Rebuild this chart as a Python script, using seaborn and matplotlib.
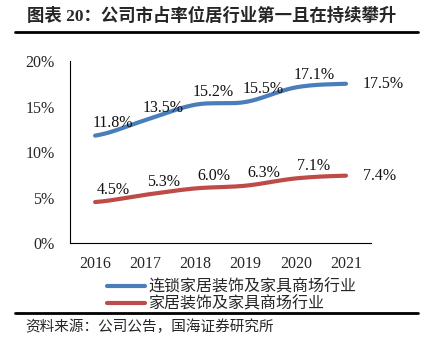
import numpy as np
import pandas as pd
import matplotlib
matplotlib.use("Agg")
import matplotlib.pyplot as plt
from matplotlib.lines import Line2D
import seaborn as sns

years = ["2016", "2017", "2018", "2019", "2020", "2021"]
chain_share = [11.8, 13.5, 15.2, 15.5, 17.1, 17.5]
industry_share = [4.5, 5.3, 6.0, 6.3, 7.1, 7.4]
series_names = ["连锁家居装饰及家具商场行业", "家居装饰及家具商场行业"]
yticks = [0, 5, 10, 15, 20]
title = "图表 20：公司市占率位居行业第一且在持续攀升"
source = "资料来源：公司公告，国海证券研究所"
colors = ["#4A7EBB", "#BE4B48"]

sns.set_style("white")
plt.rcParams["font.family"] = ["Liberation Serif", "Noto Sans CJK SC", "DejaVu Sans"]


def smooth(vals, n=30):
    """Catmull-Rom style smoothing for display of the line (x equally spaced)."""
    v = np.asarray(vals, float)
    k = len(v)
    m = np.zeros(k)
    for i in range(k):
        if i == 0:
            m[i] = (v[1] - v[0]) / 2
        elif i == k - 1:
            m[i] = (v[-1] - v[-2]) / 2
        else:
            m[i] = (v[i + 1] - v[i - 1]) / 2
    xs, ys = [], []
    for i in range(k - 1):
        t = np.linspace(0, 1, n, endpoint=(i == k - 2))
        h00 = 2 * t**3 - 3 * t**2 + 1
        h10 = t**3 - 2 * t**2 + t
        h01 = -2 * t**3 + 3 * t**2
        h11 = t**3 - t**2
        ys.append(h00 * v[i] + h10 * m[i] + h01 * v[i + 1] + h11 * m[i + 1])
        xs.append(i + t)
    return np.concatenate(xs), np.concatenate(ys)


frames = []
for name, vals in zip(series_names, [chain_share, industry_share]):
    sx, sy = smooth(vals)
    frames.append(pd.DataFrame({"x": sx, "y": sy, "series": name}))
df = pd.concat(frames, ignore_index=True)

fig = plt.figure(figsize=(4.27, 3.48), dpi=100)
ax = fig.add_axes([0.164, 0.3017, 0.705, 0.523])

sns.lineplot(data=df, x="x", y="y", hue="series", palette=colors,
             hue_order=series_names, linewidth=3, legend=False, ax=ax,
             sort=False, estimator=None)

fs = 11.5
# data labels
for vals in [chain_share, industry_share]:
    for i, v in enumerate(vals):
        if i == len(vals) - 1:
            ax.annotate(f"{v:.1f}%", (i, v), xytext=(12, 0), textcoords="offset points",
                        ha="left", va="center", fontsize=fs, color="#111111")
        else:
            ax.annotate(f"{v:.1f}%", (i, v), xytext=(13, 9), textcoords="offset points",
                        ha="center", va="center", fontsize=fs, color="#111111")

ax.set_xlim(-0.5, 5.5)
ax.set_ylim(0, 20)
ax.set_yticks(yticks)
ax.set_yticklabels([f"{t}%" for t in yticks], fontsize=fs)
ax.set_xticks(range(len(years)))
ax.set_xticklabels(years, fontsize=fs)
ax.set_xticks(np.arange(-0.5, 6, 1), minor=True)
ax.tick_params(axis="x", which="major", length=0, pad=9)
ax.tick_params(axis="x", which="minor", length=4, direction="in", color="black", width=0.8)
ax.tick_params(axis="y", which="major", length=4, direction="in", color="black", width=0.8, pad=11)
ax.set_xlabel("")
ax.set_ylabel("")
for s in ["top", "right"]:
    ax.spines[s].set_visible(False)
for s in ["left", "bottom"]:
    ax.spines[s].set_color("black")
    ax.spines[s].set_linewidth(0.8)

handles = [Line2D([0], [0], color=c, lw=3) for c in colors]
fig.legend(handles, series_names, loc="upper left", bbox_to_anchor=(0.25, 0.197),
           frameon=False, fontsize=11.5, handlelength=2.4, handletextpad=0.2,
           labelspacing=0.05, borderaxespad=0, borderpad=0)

fig.text(0.063, 0.952, title, fontsize=12.5, fontweight="bold", ha="left", va="center")
fig.add_artist(Line2D([0.035, 0.979], [0.908, 0.908], color="black", lw=2))
fig.add_artist(Line2D([0.035, 0.979], [0.101, 0.101], color="black", lw=2))
fig.text(0.058, 0.06, source, fontsize=10.5, ha="left", va="center")

fig.savefig("out.png", dpi=100)
